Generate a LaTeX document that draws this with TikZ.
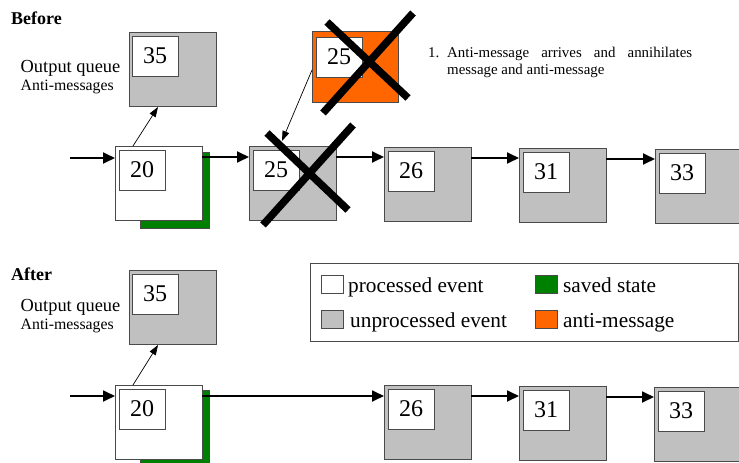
\documentclass[tikz,border=0pt]{standalone}
\usepackage{fontspec}
\setmainfont{Liberation Serif}
\usetikzlibrary{arrows.meta}
\definecolor{evgray}{HTML}{C0C0C0}
\definecolor{savegreen}{HTML}{008000}
\definecolor{antiorange}{HTML}{FF6600}
\definecolor{edge}{HTML}{4A4A4A}

\begin{document}
\begin{tikzpicture}[x=1pt,y=-1pt,
  box/.style={draw=edge, line width=0.9pt, anchor=north west, inner sep=0pt,
    outer sep=0pt, minimum width=87pt, minimum height=74pt},
  unproc/.style={box, fill=evgray},
  proc/.style={box, fill=white},
  saved/.style={box, fill=savegreen, minimum width=69pt, minimum height=76pt},
  anti/.style={box, fill=antiorange, minimum width=86pt, minimum height=71pt},
  stamp/.style={draw=edge, line width=0.9pt, fill=white, anchor=north west,
    inner sep=0pt, outer sep=0pt, minimum width=46pt, minimum height=40pt,
    font=\fontsize{24}{24}\selectfont},
  swatch/.style={draw=edge, line width=0.9pt, anchor=north west, inner sep=0pt,
    minimum width=22pt, minimum height=18pt},
  flow/.style={line width=1.8pt, -{Triangle[length=12pt,width=11pt]}},
  link/.style={line width=0.7pt, -{Triangle[length=10pt,width=7pt]}},
  cross/.style={line width=7.5pt, black},
  heading/.style={anchor=base west, inner sep=0pt, font=\bfseries\fontsize{18}{18}\selectfont},
  qlabel/.style={anchor=base west, inner sep=0pt, font=\fontsize{18.4}{19}\selectfont},
  qsub/.style={anchor=base west, inner sep=0pt, font=\fontsize{15.8}{16}\selectfont},
  note/.style={anchor=base west, inner sep=0pt, font=\fontsize{14.9}{17}\selectfont},
  legtext/.style={anchor=base west, inner sep=0pt, font=\fontsize{21.3}{22}\selectfont},
]
\useasboundingbox (0,0) rectangle (739,463);

% ---------------- Before ----------------
\node[heading] (hbefore) at (11,24) {Before};
\node[qlabel] (oqa) at (20.5,72.5) {Output queue};
\node[qsub] (ama) at (20.5,90.5) {Anti-messages};

\node[unproc] (qa) at (129,32) {};
\node[stamp] (qats) at (132,36) {35};

\node[saved] (sa) at (140,152) {};
\node[proc] (ea) at (115,146) {};
\node[stamp] (eats) at (119,150) {20};

\node[unproc] (ba) at (249,146) {};
\node[stamp] (bats) at (253,150) {25};

\node[anti] (ma) at (312,31) {};
\node[stamp] (mats) at (316,37) {25};

\node[unproc] (ca) at (384,147) {};
\node[stamp] (cats) at (388,151) {26};
\node[unproc] (da) at (519,148) {};
\node[stamp] (dats) at (523,152) {31};
\node[unproc] (fa) at (655,149) {};
\node[stamp] (fats) at (659,153) {33};

\coordinate (ina) at (70,158);
\draw[flow] (ina) -- (ina -| ea.west);
\draw[flow] ([yshift=-11pt]ea.north east) coordinate (t1) -- (t1 -| ba.west);
\draw[flow] ([yshift=-11pt]ba.north east) coordinate (t2) -- (t2 -| ca.west);
\draw[flow] ([yshift=-11pt]ca.north east) coordinate (t3) -- (t3 -| da.west);
\draw[flow] ([yshift=-11pt]da.north east) coordinate (t4) -- (t4 -| fa.west);

\draw[link] ([xshift=18pt]ea.north west) -- ([xshift=29pt,yshift=-1pt]qa.south west);
\draw[link] ([yshift=-39pt]ma.north west) -- ([xshift=33pt,yshift=5pt]ba.north west);

% annihilated message and anti-message
\draw[cross] (327,22) -- (408,98);
\draw[cross] (413,13) -- (323,113);
\draw[cross] (267,133) -- (348,210);
\draw[cross] (353,125) -- (263,225);

\node[note] (n1) at (428,57) {1.};
\node[note] (n1a) at (447,57) {\makebox[245pt][s]{Anti-message arrives and annihilates}};
\node[note] (n1b) at (447,74) {message and anti-message};

% ---------------- After ----------------
\node[heading] (hafter) at (11,280) {After};
\node[qlabel] (oqb) at (20.5,311.5) {Output queue};
\node[qsub] (amb) at (20.5,329.5) {Anti-messages};

\node[unproc] (qb) at (129,270) {};
\node[stamp] (qbts) at (132,274) {35};

\node[saved] (sb) at (140,390) {};
\node[proc] (eb) at (115,385) {};
\node[stamp] (ebts) at (119,389) {20};

\node[unproc] (cb) at (384,385) {};
\node[stamp] (cbts) at (388,389) {26};
\node[unproc] (db) at (519,386) {};
\node[stamp] (dbts) at (523,390) {31};
\node[unproc] (fb) at (654,387) {};
\node[stamp] (fbts) at (658,391) {33};

\coordinate (inb) at (70,396);
\draw[flow] (inb) -- (inb -| eb.west);
\draw[flow] ([yshift=-11pt]eb.north east) coordinate (u1) -- (u1 -| cb.west);
\draw[flow] ([yshift=-11pt]cb.north east) coordinate (u2) -- (u2 -| db.west);
\draw[flow] ([yshift=-11pt]db.north east) coordinate (u3) -- (u3 -| fb.west);

\draw[link] ([xshift=18pt]eb.north west) -- ([xshift=29pt,yshift=-1pt]qb.south west);

% ---------------- Legend ----------------
\node[draw=edge, line width=0.9pt, anchor=north west, inner sep=0pt,
  minimum width=428pt, minimum height=78pt] (leg) at (310,263) {};
\node[swatch, fill=white] (lw) at (321,275) {};
\node[legtext] (lwt) at (348,292.5) {processed event};
\node[swatch, fill=evgray] (lg) at (321,309.5) {};
\node[legtext] (lgt) at (350,327.5) {unprocessed event};
\node[swatch, fill=savegreen] (ls) at (535,274.5) {};
\node[legtext] (lst) at (563,292.5) {saved state};
\node[swatch, fill=antiorange] (lo) at (535,309.5) {};
\node[legtext] (lot) at (563,327.5) {anti-message};
\end{tikzpicture}
\end{document}
